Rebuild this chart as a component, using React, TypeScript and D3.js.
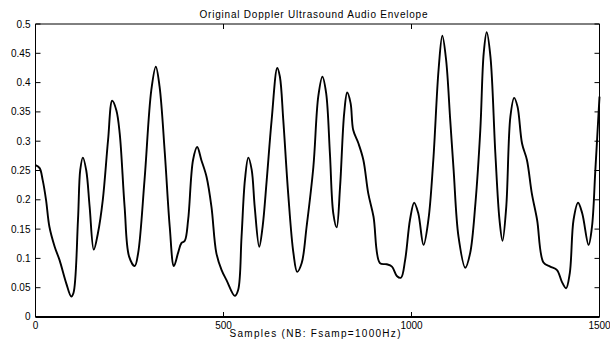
import React from "react";
import * as d3 from "d3";

const title = "Original Doppler Ultrasound Audio Envelope";
const xLabel = "Samples (NB: Fsamp=1000Hz)";
const xTicks = [0, 500, 1000, 1500];
const yTicks = [0, 0.05, 0.1, 0.15, 0.2, 0.25, 0.3, 0.35, 0.4, 0.45, 0.5];

const samples = [
  0, 11, 19, 28, 37, 51, 64, 82, 95, 101, 113, 119, 126, 135, 144, 155, 166, 179, 193, 204,
  215, 224, 237, 249, 264, 273, 290, 308, 320, 330, 344, 357, 368, 379, 388, 397, 406, 419, 430, 441,
  455, 468, 481, 495, 508, 530, 539, 548, 557, 566, 575, 583, 595, 604, 615, 628, 643, 650, 659, 672,
  686, 696, 708, 721, 739, 752, 763, 773, 783, 792, 801, 810, 821, 829, 838, 845, 859, 872, 885, 899,
  916, 934, 948, 961, 972, 983, 996, 1007, 1018, 1032, 1045, 1058, 1072, 1082, 1092, 1103, 1112, 1125, 1143, 1156,
  1170, 1183, 1192, 1200, 1210, 1223, 1234, 1242, 1252, 1263, 1273, 1282, 1294, 1307, 1320, 1334, 1351, 1369, 1387, 1400,
  1411, 1421, 1431, 1443, 1454, 1471, 1480, 1489, 1500,
];
const envelope = [
  0.259, 0.254, 0.234, 0.2, 0.154, 0.12, 0.097, 0.057, 0.035, 0.041, 0.166, 0.251, 0.272, 0.25, 0.188, 0.115, 0.143, 0.2, 0.302, 0.369,
  0.353, 0.313, 0.188, 0.103, 0.087, 0.109, 0.234, 0.387, 0.427, 0.393, 0.279, 0.154, 0.087, 0.109, 0.126, 0.13, 0.166, 0.268, 0.29, 0.268,
  0.239, 0.188, 0.109, 0.08, 0.063, 0.036, 0.046, 0.137, 0.234, 0.272, 0.251, 0.188, 0.12, 0.154, 0.234, 0.336, 0.425, 0.41, 0.336, 0.211,
  0.109, 0.077, 0.092, 0.154, 0.256, 0.376, 0.41, 0.382, 0.279, 0.177, 0.153, 0.222, 0.348, 0.383, 0.365, 0.319, 0.296, 0.268, 0.211, 0.171,
  0.092, 0.09, 0.086, 0.07, 0.067, 0.097, 0.166, 0.195, 0.177, 0.123, 0.166, 0.268, 0.422, 0.48, 0.439, 0.336, 0.251, 0.137, 0.084, 0.109,
  0.194, 0.319, 0.45, 0.486, 0.444, 0.279, 0.166, 0.13, 0.188, 0.342, 0.374, 0.359, 0.296, 0.268, 0.211, 0.166, 0.093, 0.086, 0.08, 0.06,
  0.049, 0.075, 0.166, 0.195, 0.177, 0.123, 0.154, 0.251, 0.376,
];

const W = 610;
const H = 339;
const M = { left: 35.5, right: 599.5, top: 24, bottom: 317 };
const FONT = "'Liberation Sans', Arial, Helvetica, sans-serif";

export default function App() {
  const x = d3.scaleLinear().domain([0, 1500]).range([M.left, M.right]);
  const y = d3.scaleLinear().domain([0, 0.5]).range([M.bottom, M.top]);
  const pts: [number, number][] = samples.map((s, i) => [s, envelope[i]]);
  const line = d3
    .line<[number, number]>()
    .x((d) => x(d[0]))
    .y((d) => y(d[1]))
    .curve(d3.curveCatmullRom.alpha(0.5));
  const tl = 5;
  return (
    <svg
      width={W}
      height={H}
      style={{ position: "absolute", left: 0, top: 0, background: "#fff" }}
      fontFamily={FONT}
    >
      <rect x={0} y={0} width={W} height={H} fill="#fff" />
      <path d={line(pts) || ""} fill="none" stroke="#000" strokeWidth={1.9} strokeLinejoin="round" />
      {/* box */}
      <line x1={M.left} x2={M.right} y1={M.top} y2={M.top} stroke="#000" strokeWidth={1} />
      <line x1={M.left} x2={M.left} y1={M.top} y2={M.bottom} stroke="#000" strokeWidth={1} />
      <line x1={M.right} x2={M.right} y1={M.top} y2={M.bottom} stroke="#000" strokeWidth={1} />
      <line x1={M.left} x2={M.right} y1={M.bottom} y2={M.bottom} stroke="#000" strokeWidth={2} />
      {xTicks.map((t) => (
        <g key={"x" + t}>
          <line x1={x(t)} x2={x(t)} y1={M.bottom} y2={M.bottom - tl} stroke="#000" strokeWidth={1} />
          <line x1={x(t)} x2={x(t)} y1={M.top} y2={M.top + tl} stroke="#000" strokeWidth={1} />
          <text x={x(t)} y={328.5} fontSize={10} textAnchor="middle" fill="#000">
            {t}
          </text>
        </g>
      ))}
      {yTicks.map((t) => (
        <g key={"y" + t}>
          <line x1={M.left} x2={M.left + tl} y1={y(t)} y2={y(t)} stroke="#000" strokeWidth={1} />
          <line x1={M.right} x2={M.right - tl} y1={y(t)} y2={y(t)} stroke="#000" strokeWidth={1} />
          <text x={30.5} y={y(t) + 3.5 - (t === 0 ? 1 : 0)} fontSize={10} textAnchor="end" fill="#000">
            {t === 0 ? "0" : String(t)}
          </text>
        </g>
      ))}
      <text x={313.5} y={17.5} fontSize={10} textAnchor="middle" fill="#000" textLength={228} lengthAdjust="spacing">
        {title}
      </text>
      <text x={315} y={336.5} fontSize={10} textAnchor="middle" fill="#000" textLength={171} lengthAdjust="spacing">
        {xLabel}
      </text>
    </svg>
  );
}
